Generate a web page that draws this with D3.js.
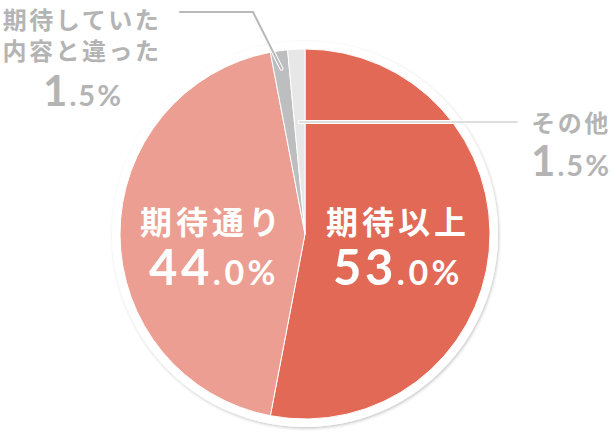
<!DOCTYPE html>
<html>
<head>
<meta charset="utf-8">
<script src="https://cdn.jsdelivr.net/npm/d3@7"></script>
<style>
  body { margin: 0; background: #fff; }
  svg { display: block; }
</style>
</head>
<body>
<svg id="chart"></svg>
<script>
// chart data
var categories = ["期待以上", "期待通り", "期待していた内容と違った", "その他"];
var values = [53.0, 44.0, 1.5, 1.5];
var colors = ["#E16955", "#EB9E91", "#BDBEC0", "#E7E7E7"];

var width = 612, height = 438;
var cx = 305, cy = 234, r = 185;

var svg = d3.select("#chart").attr("width", width).attr("height", height);

var defs = svg.append("defs");
var f = defs.append("filter").attr("id", "shadow")
  .attr("x", "-10%").attr("y", "-10%").attr("width", "120%").attr("height", "120%");
f.append("feDropShadow").attr("dx", 1).attr("dy", 1.5).attr("stdDeviation", 1.5)
  .attr("flood-color", "#000").attr("flood-opacity", 0.22);

var g = svg.append("g").attr("transform", `translate(${cx}, ${cy})`);

// white ring behind the pie
g.append("circle").attr("r", r + 8).attr("fill", "#fff").attr("filter", "url(#shadow)");

var pie = d3.pie().sort(null).value((d) => d);
var arcs = pie(values);
var arc = d3.arc().innerRadius(0).outerRadius(r);

g.selectAll("path.slice")
  .data(arcs)
  .join("path")
  .attr("class", "slice")
  .attr("d", arc)
  .attr("fill", (d, i) => colors[i])
  .attr("stroke", "#fff")
  .attr("stroke-width", 1);

var fmt = (v) => v.toFixed(1);
var numFont = "Lato, 'Noto Sans', sans-serif";
var jpFont = "'Noto Sans CJK JP', sans-serif";

// value label with big integer part and small decimal part
function valueText(sel, v, x, y, bigSize, smallSize, fill, ls) {
  var s = fmt(v).split(".");
  var t = sel.append("text")
    .attr("x", x).attr("y", y)
    .attr("text-anchor", "middle")
    .attr("fill", fill)
    .style("font-family", numFont)
    .style("font-weight", 700);
  t.append("tspan").style("font-size", bigSize + "px").style("letter-spacing", ls + "px").text(s[0]);
  t.append("tspan").style("font-size", smallSize + "px").style("letter-spacing", ls + "px")
    .text("." + s[1] + "%");
}

function jpText(sel, txt, x, y, size, fill, spacing) {
  sel.append("text")
    .attr("x", x).attr("y", y)
    .attr("text-anchor", "middle")
    .attr("fill", fill)
    .style("font-family", jpFont)
    .style("font-weight", 700)
    .style("font-size", size + "px")
    .style("letter-spacing", spacing + "px")
    .text(txt);
}

// inside labels
jpText(svg, categories[0], 396 + 2, 234, 32, "#fff", 4);
valueText(svg, values[0], 396 + 2, 285, 49, 34, "#fff", 3.5);
jpText(svg, categories[1], 210 + 2, 234, 32, "#fff", 4);
valueText(svg, values[1], 212 + 2, 285, 49, 34, "#fff", 3.5);

// leader line: 期待していた内容と違った
var labelGray = "#B4B4B4";
var pA = d3.arc().innerRadius(167).outerRadius(167).centroid(arcs[2]);
var leftPts = [[180 - cx, 12 - cy], [253 - cx, 12 - cy], pA];
var line = d3.line();
g.append("path").attr("d", line(leftPts)).attr("fill", "none")
  .attr("stroke", "#fff").attr("stroke-width", 4).attr("stroke-linecap", "round");
g.append("path").attr("d", line(leftPts)).attr("fill", "none")
  .attr("stroke", "#B8B8B8").attr("stroke-width", 2).attr("stroke-linecap", "round");

// leader line: その他
var pB = d3.arc().innerRadius(112).outerRadius(112).centroid(arcs[3]);
var rightPts = [pB, [517 - cx, pB[1]]];
g.append("path").attr("d", line(rightPts)).attr("fill", "none")
  .attr("stroke", "#fff").attr("stroke-width", 4).attr("stroke-linecap", "round");
g.append("path").attr("d", line(rightPts)).attr("fill", "none")
  .attr("stroke", "#DEDEDE").attr("stroke-width", 2).attr("stroke-linecap", "round");

// outside labels
jpText(svg, "期待していた", 81 + 1, 29, 24, labelGray, 2.5);
jpText(svg, "内容と違った", 81 + 1, 60, 24, labelGray, 2.5);
valueText(svg, values[2], 82 + 1, 106, 42, 29, labelGray, 2);

jpText(svg, categories[3], 570 + 1, 132, 24, labelGray, 2.5);
valueText(svg, values[3], 570 + 1, 176, 42, 29, labelGray, 2);
</script>
</body>
</html>
